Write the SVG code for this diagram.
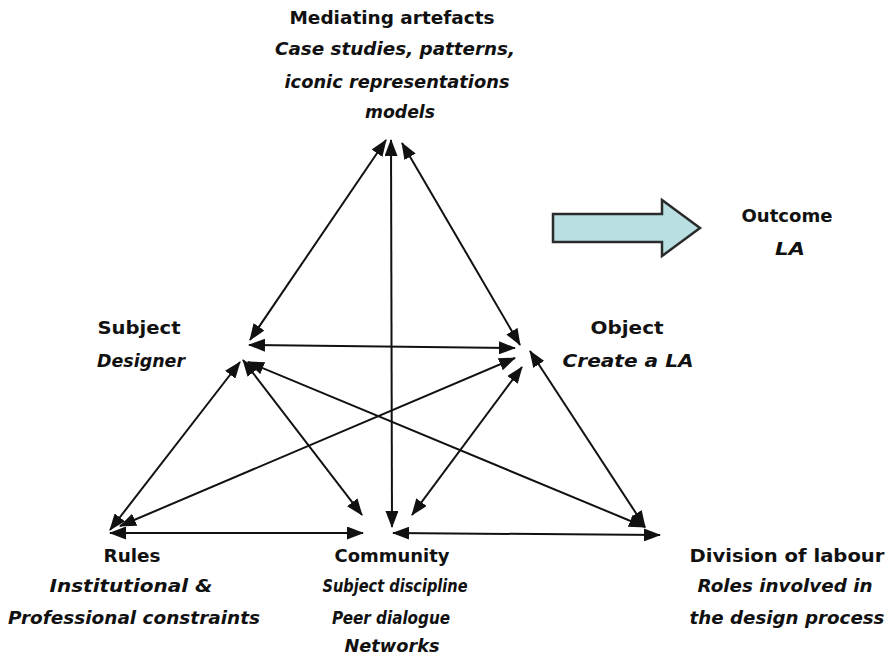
<svg xmlns="http://www.w3.org/2000/svg" width="893" height="660" viewBox="0 0 893 660">
  <style>
    text { font-family: "DejaVu Sans", "Liberation Sans", sans-serif; font-size: 18px; font-weight: bold; fill: #111; text-anchor: middle; }
    .it { font-style: italic; }
    .link { stroke: #111; stroke-width: 2; fill: none; marker-start: url(#head); marker-end: url(#head); }
    .block { fill: #b9dfe2; stroke: #2b2b2b; stroke-width: 2.5; stroke-linejoin: miter; }
  </style>
  <defs>
    <marker id="head" viewBox="0 0 17 13" markerWidth="17" markerHeight="13" refX="16" refY="6.5" orient="auto-start-reverse" markerUnits="userSpaceOnUse">
      <path d="M0,0 L17,6.5 L0,13 z" fill="#111"/>
    </marker>
  </defs>
  <rect width="893" height="660" fill="#fff"/>

  <!-- connectors: double-headed links between the six activity-system nodes -->
  <g id="connectors">
    <line class="link" x1="386" y1="140" x2="250" y2="340"/>
    <line class="link" x1="391" y1="140" x2="392" y2="527"/>
    <line class="link" x1="402" y1="143" x2="520" y2="345"/>
    <line class="link" x1="249" y1="345" x2="515" y2="348"/>
    <line class="link" x1="240" y1="362" x2="110" y2="530"/>
    <line class="link" x1="243" y1="360" x2="362" y2="515"/>
    <line class="link" x1="248" y1="362" x2="645" y2="527"/>
    <line class="link" x1="515" y1="358" x2="120" y2="526"/>
    <line class="link" x1="522" y1="367" x2="412" y2="515"/>
    <line class="link" x1="530" y1="351" x2="645" y2="527"/>
    <line class="link" x1="110" y1="533" x2="363" y2="533"/>
    <line class="link" x1="393" y1="533" x2="660" y2="535"/>
  </g>

  <g id="mediating-artefacts">
    <text x="392" y="24" textLength="205" lengthAdjust="spacingAndGlyphs">Mediating artefacts</text>
    <text class="it" x="395" y="55" textLength="240" lengthAdjust="spacingAndGlyphs">Case studies, patterns,</text>
    <text class="it" x="397" y="88" textLength="225" lengthAdjust="spacingAndGlyphs">iconic representations</text>
    <text class="it" x="400" y="118" textLength="70" lengthAdjust="spacingAndGlyphs">models</text>
  </g>

  <g id="outcome">
    <path class="block" d="M553,214 L662,214 L662,200 L700,228 L662,256 L662,242 L553,242 z"/>
    <text x="787" y="222" textLength="91" lengthAdjust="spacingAndGlyphs">Outcome</text>
    <text class="it" x="790" y="255" textLength="30" lengthAdjust="spacingAndGlyphs">LA</text>
  </g>

  <g id="subject">
    <text x="139" y="334" textLength="83" lengthAdjust="spacingAndGlyphs">Subject</text>
    <text class="it" x="141" y="367" textLength="88" lengthAdjust="spacingAndGlyphs">Designer</text>
  </g>

  <g id="object">
    <text x="627" y="334" textLength="73" lengthAdjust="spacingAndGlyphs">Object</text>
    <text class="it" x="628" y="367" textLength="131" lengthAdjust="spacingAndGlyphs">Create a LA</text>
  </g>

  <g id="rules">
    <text x="132" y="562" textLength="57" lengthAdjust="spacingAndGlyphs">Rules</text>
    <text class="it" x="131" y="592" textLength="163" lengthAdjust="spacingAndGlyphs">Institutional &amp;</text>
    <text class="it" x="134" y="624" textLength="252" lengthAdjust="spacingAndGlyphs">Professional constraints</text>
  </g>

  <g id="community">
    <text x="392" y="562" textLength="115" lengthAdjust="spacingAndGlyphs">Community</text>
    <text class="it" x="395" y="592" textLength="145" lengthAdjust="spacingAndGlyphs">Subject discipline</text>
    <text class="it" x="391" y="624" textLength="118" lengthAdjust="spacingAndGlyphs">Peer dialogue</text>
    <text class="it" x="392" y="652" textLength="95" lengthAdjust="spacingAndGlyphs">Networks</text>
  </g>

  <g id="division-of-labour">
    <text x="787" y="562" textLength="195" lengthAdjust="spacingAndGlyphs">Division of labour</text>
    <text class="it" x="785" y="592" textLength="175" lengthAdjust="spacingAndGlyphs">Roles involved in</text>
    <text class="it" x="787" y="624" textLength="195" lengthAdjust="spacingAndGlyphs">the design process</text>
  </g>
</svg>
